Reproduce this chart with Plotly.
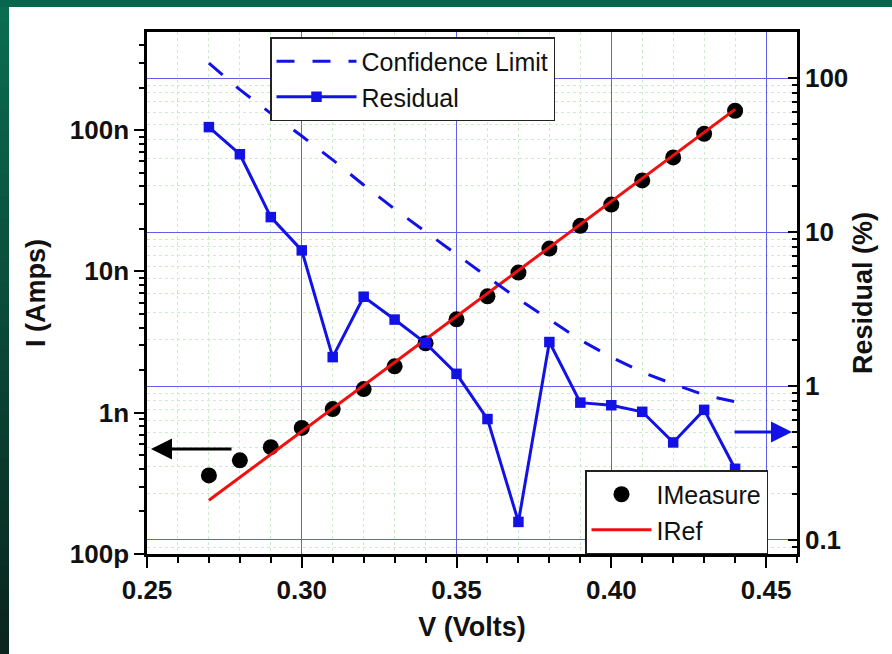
import plotly.graph_objects as go

# ---------------- data ----------------
voltage = [0.27, 0.28, 0.29, 0.30, 0.31, 0.32, 0.33, 0.34, 0.35,
           0.36, 0.37, 0.38, 0.39, 0.40, 0.41, 0.42, 0.43, 0.44]
i_measure = [3.6e-10, 4.6e-10, 5.7e-10, 7.8e-10, 1.06e-9, 1.47e-9, 2.13e-9, 3.1e-9, 4.58e-9,
             6.66e-9, 9.8e-9, 1.45e-8, 2.1e-8, 2.97e-8, 4.4e-8, 6.4e-8, 9.4e-8, 1.37e-7]
iref_v = [0.27, 0.44]
iref_i = [2.4e-10, 1.4e-7]
conf_limit = [125, 84, 59, 42, 29.4, 20.2, 14.1, 10.0, 7.1,
              5.1, 3.67, 2.72, 1.99, 1.54, 1.23, 1.03, 0.875, 0.79]
residual = [48, 32, 12.5, 7.6, 1.54, 3.8, 2.7, 1.9, 1.2,
            0.61, 0.131, 1.93, 0.78, 0.75, 0.68, 0.43, 0.70, 0.29]
left_tickvals = [1e-10, 1e-9, 1e-8, 1e-7]
left_ticktext = ["100p", "1n", "10n", "100n"]
right_tickvals = [0.1, 1, 10, 100]
right_ticktext = ["0.1", "1", "10", "100"]

# ---------------- style ----------------
W, H = 892, 654
L, R, T, B = 147, 797, 32, 554
FONT = "Liberation Sans, Arial, sans-serif"
BLUE = "#1212e6"
RED = "#f01010"
GRID = "#5f5fea"
MINOR = "#cdeccd"


def px(x):
    return (x - L) / (R - L)


def py(y):
    return (B - y) / (B - T)


left_minor = [m * 10.0 ** e for e in range(-11, -5) for m in range(2, 10)]
right_minor = [m * 10.0 ** e for e in range(-2, 3) for m in range(2, 10)]

fig = go.Figure()
fig.add_trace(go.Scatter(x=voltage, y=i_measure, mode="markers", name="IMeasure",
                         marker=dict(color="black", size=16), legend="legend2"))
fig.add_trace(go.Scatter(x=iref_v, y=iref_i, mode="lines", name="IRef",
                         line=dict(color=RED, width=3), legend="legend2"))
fig.add_trace(go.Scatter(x=voltage, y=conf_limit, mode="lines", name="Confidence Limit",
                         yaxis="y2", line=dict(color=BLUE, width=3, dash="18px,18px"),
                         legend="legend"))
fig.add_trace(go.Scatter(x=voltage, y=residual, mode="lines+markers", name="Residual",
                         yaxis="y2", line=dict(color=BLUE, width=3),
                         marker=dict(symbol="square", size=10.5, color=BLUE),
                         legend="legend"))

# green frame on top and left (gradient approximated by bands)
shapes = []
n = 30
c0 = (12, 108, 82)
c1 = (10, 38, 30)
for k in range(n):
    t = k / (n - 1)
    col = "rgb(%d,%d,%d)" % tuple(int(a + (b - a) * t) for a, b in zip(c0, c1))
    y0 = k * H / n
    y1 = (k + 1) * H / n + 1
    shapes.append(dict(type="rect", xref="paper", yref="paper", x0=px(0), x1=px(9),
                       y0=py(y1), y1=py(y0), line=dict(width=0), fillcolor=col, layer="above"))
shapes.append(dict(type="rect", xref="paper", yref="paper", x0=px(0), x1=px(W),
                   y0=py(7), y1=py(0), line=dict(width=0), fillcolor="rgb(6,102,78)", layer="above"))

tickfont = dict(family=FONT, size=26, color="#111111", weight="bold")
titlefont = dict(family=FONT, size=27, color="#111111", weight="bold")
legfont = dict(family=FONT, size=25, color="#111111")

fig.update_layout(
    width=W, height=H,
    margin=dict(l=L, r=W - R, t=T, b=H - B, autoexpand=False),
    paper_bgcolor="white", plot_bgcolor="white",
    shapes=shapes,
    xaxis=dict(range=[0.25, 0.46], tick0=0.25, dtick=0.05, tickformat=".2f",
               ticks="outside", ticklen=11, tickwidth=2, tickcolor="black",
               showline=True, linecolor="black", linewidth=2.5, mirror=True,
               showgrid=True, gridcolor=GRID, gridwidth=1, zeroline=False,
               minor=dict(dtick=0.01, tick0=0.25, ticks="outside", ticklen=6, tickwidth=2,
                          tickcolor="black", showgrid=True, gridcolor=MINOR, griddash="dot",
                          gridwidth=1),
               tickfont=tickfont,
               title=dict(text="V (Volts)", font=titlefont, standoff=14)),
    yaxis=dict(type="log", range=[-10, -6.306], tickmode="array",
               tickvals=left_tickvals, ticktext=left_ticktext,
               ticks="outside", ticklen=10, tickwidth=2, tickcolor="black",
               showline=True, linecolor="black", linewidth=2.5,
               showgrid=False, zeroline=False,
               minor=dict(tickmode="array", tickvals=left_minor, ticks="outside",
                          ticklen=5, tickwidth=2, tickcolor="black", showgrid=False),
               tickfont=tickfont,
               title=dict(text="I (Amps)", font=titlefont, standoff=17)),
    yaxis2=dict(type="log", range=[-1.091, 2.299], overlaying="y", side="right",
                tickmode="array", tickvals=right_tickvals, ticktext=right_ticktext,
                ticks="inside", ticklen=9, tickwidth=2, tickcolor="black",
                showline=True, linecolor="black", linewidth=2.5,
                showgrid=True, gridcolor=GRID, gridwidth=1, zeroline=False,
                minor=dict(tickmode="array", tickvals=right_minor, ticks="inside",
                           ticklen=5, tickwidth=2, tickcolor="black", showgrid=True,
                           gridcolor=MINOR, griddash="dot", gridwidth=1),
                tickfont=tickfont,
                title=dict(text="Residual (%)", font=titlefont, standoff=6)),
    legend=dict(x=px(270), y=py(37), xanchor="left", yanchor="top",
                bgcolor="white", bordercolor="#222222", borderwidth=1.5,
                font=legfont, itemwidth=80, tracegroupgap=0),
    legend2=dict(x=px(585), y=py(470), xanchor="left", yanchor="top",
                 bgcolor="white", bordercolor="#222222", borderwidth=1.5,
                 font=legfont, itemwidth=60, tracegroupgap=0),
    showlegend=True,
    annotations=[
        dict(xref="paper", yref="paper", x=px(151), y=py(449), ax=82, ay=0,
             axref="pixel", ayref="pixel", text="", showarrow=True,
             arrowhead=2, arrowsize=1.4, arrowwidth=3, arrowcolor="black"),
        dict(xref="paper", yref="paper", x=px(792), y=py(432), ax=-59, ay=0,
             axref="pixel", ayref="pixel", text="", showarrow=True,
             arrowhead=2, arrowsize=1.4, arrowwidth=3, arrowcolor=BLUE),
    ],
)

fig.write_html("out.html")
